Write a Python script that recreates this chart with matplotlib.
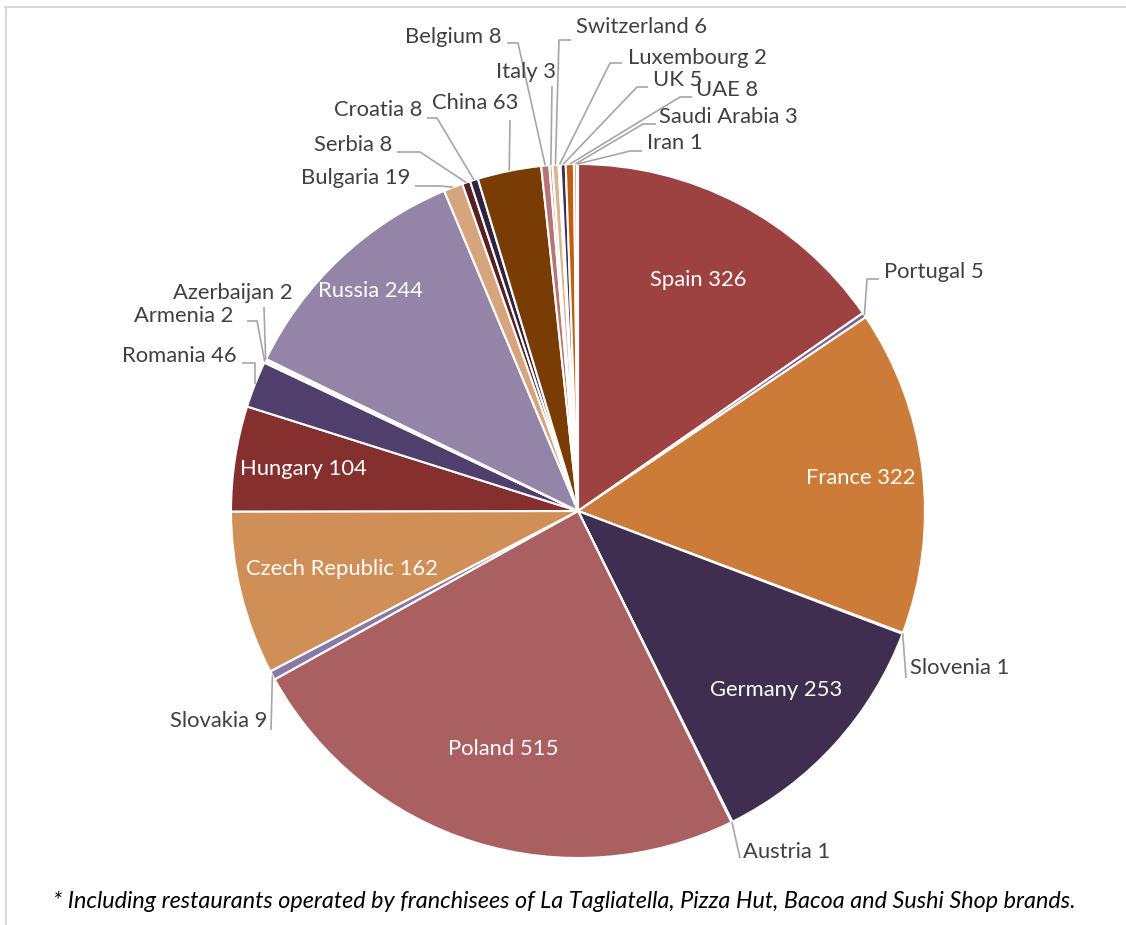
import numpy as np
import matplotlib.pyplot as plt
from matplotlib.lines import Line2D

plt.rcParams['font.family'] = ['Lato', 'DejaVu Sans']

# restaurants per country, clockwise from 12 o'clock
countries = ['Spain', 'Portugal', 'France', 'Slovenia', 'Germany', 'Austria',
             'Poland', 'Slovakia', 'Czech Republic', 'Hungary', 'Romania',
             'Armenia', 'Azerbaijan', 'Russia', 'Bulgaria', 'Serbia', 'Croatia',
             'China', 'Belgium', 'Italy', 'Switzerland', 'Luxembourg', 'UK',
             'UAE', 'Saudi Arabia', 'Iran']
stores = [326, 5, 322, 1, 253, 1, 515, 9, 162, 104, 46, 2, 2, 244, 19, 8, 8,
          63, 8, 3, 6, 2, 5, 8, 3, 1]
colors = ['#9E4141', '#7B6596', '#CD7B38', '#7E3333', '#3F2E4F', '#A65A1E',
          '#AA6060', '#8A78A6', '#D18F58', '#852F2F', '#503F6C', '#C06A20',
          '#B98080', '#9484A8', '#D6A57D', '#5A1F1F', '#2E2340', '#7A3C05',
          '#B87474', '#A89BBE', '#DDB28F', '#9E4141', '#3F2E4F', '#C0600F',
          '#D3A3A3', '#C0B8D2']
footnote = ('* Including restaurants operated by franchisees of La Tagliatella, '
            'Pizza Hut, Bacoa and Sushi Shop brands.')

W, H = 1126, 925
CX, CY, R = 578, 511, 347
FS = 15.8


def py(y):
    return H - y


# labels drawn inside the slice: radius factor
inside = {'Spain': 0.75, 'France': 0.82, 'Germany': 0.77, 'Poland': 0.72,
          'Czech Republic': 0.70, 'Hungary': 0.80, 'Russia': 0.87}
# outside labels: text x, y, ha, knee, end of leader (pixels)
outside = {
    'Portugal': (884, 272, 'left', (867, 279), (879, 279)),
    'Slovenia': (910, 668, 'left', (906, 678), (906, 678)),
    'Austria': (743, 852, 'left', (740, 858), (740, 858)),
    'Slovakia': (267, 721, 'right', (271, 730), (271, 730)),
    'Romania': (237, 356, 'right', (255, 363), (242, 363)),
    'Armenia': (233, 316, 'right', (257, 321), (247, 321)),
    'Azerbaijan': (293, 293, 'right', (264, 307), (264, 307)),
    'Bulgaria': (410, 178, 'right', (440, 186), (415, 186)),
    'Serbia': (392, 145, 'right', (420, 152), (397, 152)),
    'Croatia': (422, 110, 'right', (437, 118), (427, 118)),
    'China': (475, 103, 'center', (510, 120), (510, 120)),
    'Belgium': (502, 37, 'right', (518, 43), (507, 43)),
    'Italy': (526, 72, 'center', (552, 86), (552, 86)),
    'Switzerland': (576, 27, 'left', (559, 40), (571, 40)),
    'Luxembourg': (628, 58, 'left', (610, 63), (622, 63)),
    'UK': (653, 80, 'left', (637, 87), (648, 87)),
    'UAE': (696, 90, 'left', (680, 97), (692, 97)),
    'Saudi Arabia': (659, 117, 'left', (643, 124), (656, 124)),
    'Iran': (647, 143, 'left', (630, 151), (642, 151)),
}

fig = plt.figure(figsize=(W / 100, H / 100), dpi=100)
ax = fig.add_axes([0, 0, 1, 1])
ax.pie(stores, colors=colors, startangle=90, counterclock=False,
       center=(CX, py(CY)), radius=R,
       wedgeprops=dict(edgecolor='white', linewidth=1.5))
ax.set_xlim(0, W)
ax.set_ylim(0, H)
ax.set_aspect('equal')
ax.axis('off')

total = sum(stores)
cum = np.cumsum([0] + stores[:-1])
for name, v, c0 in zip(countries, stores, cum):
    ang = np.deg2rad(90 - 360 * (c0 + v / 2) / total)
    label = f'{name} {v}'
    if name in inside:
        f = inside[name]
        ax.text(CX + f * R * np.cos(ang), py(CY) + f * R * np.sin(ang), label,
                color='white', fontsize=FS, ha='center', va='center')
    else:
        tx, ty, ha, knee, end = outside[name]
        ax_ = CX + R * np.cos(ang)
        ay_ = py(CY) + R * np.sin(ang)
        ax.plot([ax_, knee[0], end[0]], [ay_, py(knee[1]), py(end[1])],
                color='#A6A6A6', lw=1.2, solid_capstyle='butt')
        ax.text(tx, py(ty), label, color='#404040', fontsize=FS,
                ha=ha, va='center')

ax.text(564, py(902), footnote, style='italic', fontsize=16.8, color='#000000',
        ha='center', va='center')

# chart frame
fig.add_artist(Line2D([5 / W, 1], [py(7) / H, py(7) / H], color='#D9D9D9', lw=1.5))
fig.add_artist(Line2D([6 / W, 6 / W], [0, py(7) / H], color='#D9D9D9', lw=1.5))

fig.savefig('out.png', dpi=100)
